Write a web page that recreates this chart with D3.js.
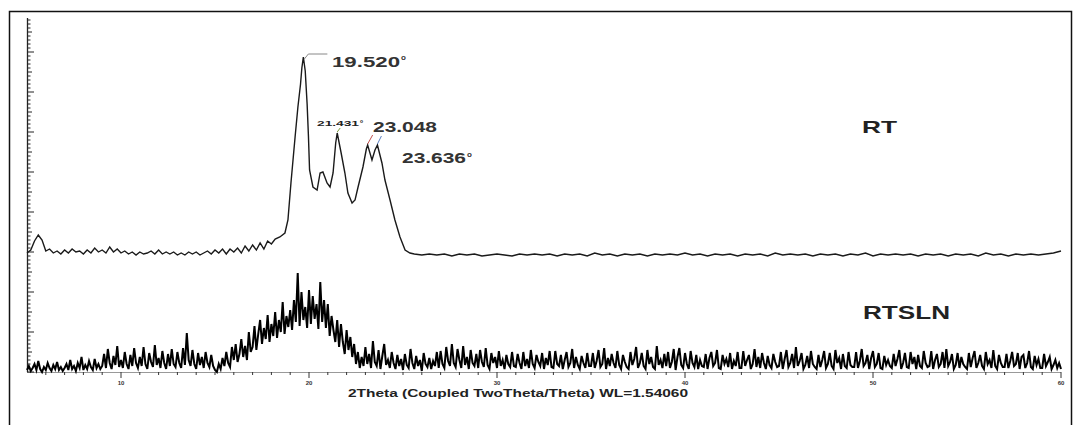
<!DOCTYPE html>
<meta charset="utf-8">
<script src="https://d3js.org/d3.v7.min.js"></script>
<style>
    body { margin: 0; background: #fff; }
    text { font-family: "Liberation Sans", Arial, sans-serif; }
</style>
<div id="xrd"></div>
<script>
    // 2theta positions and intensities for the RT sample
    var rtTheta = [5.0, 5.2, 5.4, 5.6, 5.8, 6.0, 6.2, 6.4, 6.6, 6.8, 7.0, 7.2, 7.4, 7.6, 7.8,
        8.0, 8.2, 8.4, 8.6, 8.8, 9.0, 9.2, 9.4, 9.6, 9.8, 10.0, 10.2, 10.4, 10.6, 10.8,
        11.0, 11.2, 11.4, 11.6, 11.8, 12.0, 12.2, 12.4, 12.6, 12.8, 13.0, 13.2, 13.4, 13.6, 13.8,
        14.0, 14.2, 14.4, 14.6, 14.8, 15.0, 15.2, 15.4, 15.6, 15.8, 16.0, 16.2, 16.4, 16.6, 16.8,
        17.0, 17.2, 17.4, 17.6, 17.8, 18.0, 18.2, 18.45, 18.72, 18.88, 19.04, 19.15, 19.26, 19.41,
        19.55, 19.62, 19.70, 19.80, 19.90, 19.97, 20.03, 20.21, 20.43, 20.59, 20.74, 20.96, 21.12,
        21.28, 21.42, 21.50, 21.70, 21.91, 22.07, 22.29, 22.45, 22.61, 22.87, 23.05, 23.12, 23.35,
        23.51, 23.64, 23.88, 24.04, 24.31, 24.57, 24.84, 25.11, 25.37,
        25.6, 26.0, 26.4, 26.8, 27.2, 27.6, 28.0, 28.4, 28.8, 29.2, 29.6, 30.0, 30.4, 30.8,
        31.2, 31.6, 32.0, 32.4, 32.8, 33.2, 33.6, 34.0, 34.4, 34.8, 35.2, 35.6, 36.0, 36.4,
        36.8, 37.2, 37.6, 38.0, 38.4, 38.8, 39.2, 39.6, 40.0, 40.4, 40.8, 41.2, 41.6, 42.0,
        42.4, 42.8, 43.2, 43.6, 44.0, 44.4, 44.8, 45.2, 45.6, 46.0, 46.4, 46.8, 47.2, 47.6,
        48.0, 48.4, 48.8, 49.2, 49.6, 50.0, 50.4, 50.8, 51.2, 51.6, 52.0, 52.4, 52.8, 53.2,
        53.6, 54.0, 54.4, 54.8, 55.2, 55.6, 56.0, 56.4, 56.8, 57.2, 57.6, 58.0, 58.4, 58.8,
        59.2, 59.6, 60.0];
    var rtCounts = [30, 60, 150, 210, 160, 50, 70, 30, 50, 20, 60, 30, 70, 40, 50,
        20, 60, 30, 80, 40, 60, 30, 90, 40, 70, 30, 50, 20, 40, 10,
        40, 20, 30, 50, 20, 60, 20, 40, 20, 40, 10, 30, 10, 40, 20,
        40, 10, 30, 50, 20, 60, 30, 70, 20, 70, 40, 80, 30, 100, 50,
        110, 60, 130, 70, 150, 120, 170, 190, 230, 360, 730, 960, 1190, 1490,
        1720, 1880, 1990, 1850, 1520, 1200, 860, 690, 660, 830, 840, 730, 690,
        830, 1130, 1230, 1040, 830, 630, 530, 560, 690, 890, 1070, 1110, 960,
        1060, 1110, 930, 760, 560, 360, 190, 60, 30,
        20, 10, 20, 10, 20, 0, 20, 10, 20, 0, 10, 20, 10, 0,
        20, 10, 20, 10, 20, 0, 20, 10, 20, 0, 30, 10, 20, 0,
        20, 10, 20, 0, 20, 10, 20, 10, 30, 10, 20, 0, 20, 10,
        20, 0, 20, 10, 20, 0, 30, 10, 20, 10, 20, 0, 20, 10,
        20, 0, 20, 10, 30, 0, 20, 10, 20, 10, 20, 0, 20, 10,
        20, 0, 20, 10, 20, 0, 30, 10, 20, 0, 20, 10, 20, 10,
        20, 30, 50];
    var rtOffset = 1160;

    // RTSLN sample, one reading every 0.1 degree from 5 to 60 (rows of 2 degrees)
    var rtslnStart = 5, rtslnStep = 0.1;
    var rtslnCounts = [
        20, 60, 10, 40, 80, 20, 110, 30, 0, 50, 20, 90, 40, 10, 70, 30, 100, 20, 50, 10,
        40, 80, 20, 120, 30, 60, 10, 90, 40, 150, 20, 70, 30, 110, 50, 20, 130, 40, 80, 30,
        60, 180, 40, 230, 90, 30, 160, 70, 260, 50, 120, 40, 200, 80, 30, 170, 60, 240, 90, 40,
        150, 60, 250, 80, 30, 190, 100, 50, 270, 70, 140, 40, 210, 90, 30, 180, 60, 230, 80, 50,
        200, 90, 40, 240, 70, 390, 120, 60, 220, 80, 30, 190, 70, 150, 40, 200, 90, 50, 170, 60,
        20, 0, 80, 30, 140, 60, 200, 90, 50, 250, 120, 280, 100, 180, 330, 150, 260, 120, 400, 200,
        250, 460, 220, 380, 520, 280, 440, 330, 570, 300, 480, 360, 600, 340, 520, 400, 700, 380, 560, 450,
        620, 420, 720, 500, 990, 460, 800, 520, 650, 440, 820, 480, 760, 530, 680, 430, 900, 500, 720, 440,
        680, 360, 560, 420, 300, 520, 250, 480, 300, 180, 420, 220, 350, 150, 280, 80, 200, 40, 150, 60,
        250, 80, 180, 40, 310, 100, 60, 220, 30, 160, 280, 70, 120, 40, 200, 90, 30, 170, 60, 130,
        20, 180, 70, 40, 230, 90, 30, 160, 60, 120, 10, 190, 80, 50, 140, 30, 110, 60, 200, 40,
        210, 80, 40, 250, 110, 60, 280, 90, 50, 230, 120, 40, 260, 70, 150, 30, 220, 90, 60, 180,
        40, 220, 100, 50, 240, 70, 30, 190, 90, 150, 40, 210, 60, 120, 30, 170, 80, 50, 200, 60,
        50, 180, 90, 30, 200, 60, 130, 40, 220, 80, 40, 170, 100, 60, 190, 30, 140, 70, 210, 50,
        40, 210, 80, 60, 170, 30, 120, 200, 50, 90, 230, 40, 150, 70, 30, 160, 90, 40, 190, 60,
        60, 190, 40, 110, 220, 50, 80, 240, 30, 140, 60, 180, 90, 40, 210, 70, 30, 170, 100, 50,
        30, 200, 70, 130, 250, 40, 90, 190, 60, 30, 220, 80, 150, 50, 30, 260, 70, 120, 40, 180,
        60, 200, 40, 100, 230, 20, 150, 240, 70, 40, 190, 80, 30, 210, 90, 50, 170, 30, 120, 60,
        50, 180, 30, 140, 200, 60, 90, 220, 40, 30, 170, 80, 130, 50, 190, 30, 110, 60, 200, 40,
        40, 210, 60, 120, 170, 30, 80, 230, 50, 150, 40, 190, 90, 30, 160, 70, 40, 180, 100, 50,
        60, 200, 30, 130, 220, 50, 90, 180, 40, 250, 60, 110, 190, 30, 70, 160, 40, 210, 80, 50,
        30, 170, 50, 120, 210, 40, 80, 190, 60, 30, 220, 90, 140, 30, 180, 60, 40, 200, 70, 50,
        50, 200, 40, 110, 230, 60, 90, 170, 30, 140, 210, 50, 80, 190, 40, 30, 160, 70, 120, 60,
        40, 180, 60, 130, 220, 30, 90, 190, 50, 40, 200, 80, 150, 30, 170, 60, 40, 210, 90, 50,
        60, 210, 30, 120, 180, 50, 80, 200, 40, 230, 60, 100, 180, 30, 70, 190, 40, 150, 80, 50,
        30, 190, 50, 140, 210, 40, 90, 170, 60, 30, 200, 80, 120, 40, 220, 60, 30, 170, 90, 50,
        50, 180, 40, 110, 200, 60, 80, 190, 30, 150, 170, 40, 90, 210, 50, 30, 160, 70, 130, 40,
        40, 180, 60, 100, 150, 30, 70, 120, 40, 90, 30];

    var xTicks = [10, 20, 30, 40, 50, 60];
    var sampleNames = ["RT", "RTSLN"];

    var W = 1077, H = 425;
    var svg = d3.select("#xrd").append("svg")
        .attr("width", W).attr("height", H);

    // outer frame
    svg.append("rect")
        .attr("x", 9.5).attr("y", 11.5)
        .attr("width", 1062).attr("height", 430)
        .attr("fill", "none").attr("stroke", "#111").attr("stroke-width", 1.5);

    var x = d3.scaleLinear().domain([5, 60]).range([27, 1061]);
    var y = d3.scaleLinear().domain([0, 3540]).range([372, 18]);

    // x axis: minor ticks every degree, labelled every ten
    svg.append("line")
        .attr("x1", 27).attr("x2", 1061).attr("y1", 372.5).attr("y2", 372.5)
        .attr("stroke", "#999").attr("stroke-width", 1);
    svg.selectAll("xminor")
        .data(d3.range(6, 61))
        .enter().append("line")
        .attr("x1", d => x(d)).attr("x2", d => x(d))
        .attr("y1", 372).attr("y2", d => d % 10 === 0 ? 378 : 375)
        .attr("stroke", "#333").attr("stroke-width", 1);
    svg.selectAll("xlab")
        .data(xTicks)
        .enter().append("text")
        .attr("x", d => x(d)).attr("y", 385)
        .attr("text-anchor", "middle")
        .attr("font-size", 6).attr("font-weight", "bold").attr("fill", "#333")
        .text(d => d);

    svg.append("text")
        .attr("x", 348).attr("y", 397)
        .attr("textLength", 340).attr("lengthAdjust", "spacingAndGlyphs")
        .attr("font-size", 11).attr("font-weight", "bold").attr("fill", "#222")
        .text("2Theta (Coupled TwoTheta/Theta) WL=1.54060");

    // y axis with inward ticks, no labels
    svg.append("line")
        .attr("x1", 27.5).attr("x2", 27.5).attr("y1", 18).attr("y2", 372)
        .attr("stroke", "#222").attr("stroke-width", 1.3);
    svg.selectAll("yminor")
        .data(d3.range(0, 3541, 40))
        .enter().append("line")
        .attr("x1", 27).attr("y1", d => y(d)).attr("y2", d => y(d))
        .attr("x2", d => d % 400 === 0 ? 34 : d % 200 === 0 ? 32 : 30.5)
        .attr("stroke", "#222").attr("stroke-width", 1);

    // the two patterns
    var rtData = rtTheta.map((t, i) => [t, rtCounts[i] + rtOffset]);
    var rtslnData = rtslnCounts.map((c, i) => [rtslnStart + i * rtslnStep, c]);

    var line = d3.line()
        .x(d => x(d[0]))
        .y(d => y(d[1]));

    svg.append("path")
        .datum(rtslnData)
        .attr("d", line)
        .attr("fill", "none").attr("stroke", "#000").attr("stroke-width", 2);

    svg.append("path")
        .datum(rtData)
        .attr("d", line)
        .attr("fill", "none").attr("stroke", "#1a1a1a").attr("stroke-width", 1.4);

    // peak annotations
    var pk = function(t) { return y(rtCounts[rtTheta.indexOf(t)] + rtOffset); };
    svg.append("path")
        .attr("d", "M" + (x(19.70) + 1) + "," + (pk(19.70) + 2) + "L" + (x(19.70) + 5) + "," + (pk(19.70) - 3) + "H" + (x(19.70) + 24))
        .attr("fill", "none").attr("stroke", "#888").attr("stroke-width", 1);
    svg.append("text")
        .attr("x", 332).attr("y", 67)
        .attr("textLength", 68).attr("lengthAdjust", "spacingAndGlyphs")
        .attr("font-family", "DejaVu Sans Mono").attr("font-weight", "bold")
        .attr("font-size", 14).attr("fill", "#333")
        .text("19.520");
    svg.append("text")
        .attr("x", 401).attr("y", 60)
        .attr("font-size", 8).attr("font-weight", "bold").attr("fill", "#333")
        .text("o");

    svg.append("line")
        .attr("x1", x(21.50)).attr("y1", pk(21.50) - 1)
        .attr("x2", x(21.50) + 3).attr("y2", pk(21.50) - 5)
        .attr("stroke", "#7a9a3a").attr("stroke-width", 1);
    svg.append("text")
        .attr("x", 317).attr("y", 126)
        .attr("textLength", 42).attr("lengthAdjust", "spacingAndGlyphs")
        .attr("font-size", 8).attr("font-weight", "bold").attr("fill", "#222")
        .text("21.431");
    svg.append("text")
        .attr("x", 360).attr("y", 123)
        .attr("font-size", 5).attr("font-weight", "bold").attr("fill", "#222")
        .text("o");

    svg.append("line")
        .attr("x1", x(23.12)).attr("y1", pk(23.12) - 1)
        .attr("x2", x(23.12) + 5).attr("y2", pk(23.12) - 10)
        .attr("stroke", "#c0504d").attr("stroke-width", 1);
    svg.append("line")
        .attr("x1", x(23.64)).attr("y1", pk(23.64) - 1)
        .attr("x2", x(23.64) + 4).attr("y2", pk(23.64) - 9)
        .attr("stroke", "#5b7fc0").attr("stroke-width", 1);
    svg.append("text")
        .attr("x", 373).attr("y", 132)
        .attr("textLength", 64).attr("lengthAdjust", "spacingAndGlyphs")
        .attr("font-family", "DejaVu Sans Mono").attr("font-weight", "bold")
        .attr("font-size", 14).attr("fill", "#333")
        .text("23.048");
    svg.append("text")
        .attr("x", 402).attr("y", 163)
        .attr("textLength", 64).attr("lengthAdjust", "spacingAndGlyphs")
        .attr("font-family", "DejaVu Sans Mono").attr("font-weight", "bold")
        .attr("font-size", 14).attr("fill", "#333")
        .text("23.636");
    svg.append("text")
        .attr("x", 467).attr("y", 157)
        .attr("font-size", 8).attr("font-weight", "bold").attr("fill", "#333")
        .text("o");

    // sample names
    svg.append("text")
        .attr("x", 862).attr("y", 133)
        .attr("textLength", 35).attr("lengthAdjust", "spacingAndGlyphs")
        .attr("font-size", 17).attr("font-weight", "bold").attr("fill", "#222")
        .text(sampleNames[0]);
    svg.append("text")
        .attr("x", 863).attr("y", 319)
        .attr("textLength", 87).attr("lengthAdjust", "spacingAndGlyphs")
        .attr("font-size", 18).attr("font-weight", "bold").attr("fill", "#222")
        .text(sampleNames[1]);
</script>
